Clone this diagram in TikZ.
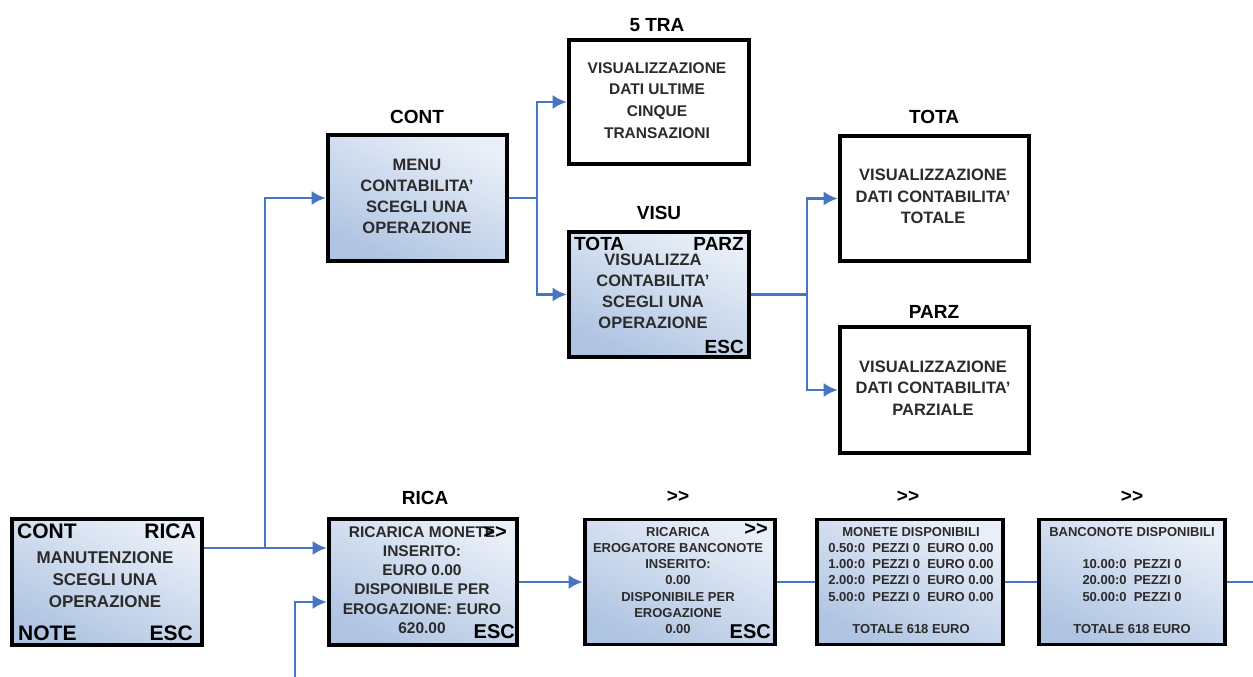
\documentclass[tikz,border=0pt]{standalone}
\usepackage{fontspec}
\setmainfont{Liberation Sans}
\usetikzlibrary{arrows.meta}
\definecolor{conncol}{HTML}{4775C2}
\definecolor{paneltop}{HTML}{E9EFF8}
\definecolor{panelbot}{HTML}{AFC4E2}
\definecolor{txtgray}{HTML}{2B2B2B}
\newcommand\myfs[2]{\fontsize{#1}{#2}\selectfont}
\begin{document}
\begin{tikzpicture}[x=1pt,y=-1pt,
  panel/.style={draw=black, line width=3.6pt, top color=paneltop, bottom color=panelbot, shading angle=-25, inner sep=0pt},
  plainbox/.style={draw=black, line width=3.6pt, fill=white, inner sep=0pt},
  boxtext/.style 2 args={align=center, text=txtgray, inner sep=0pt, font=\bfseries\myfs{#1}{#2}},
  cornerlbl/.style={inner sep=0pt, text=black, font=\bfseries\myfs{#1}{22}},
  title/.style={inner sep=0pt, text=black, font=\bfseries\myfs{19}{22}},
  conn/.style={draw=conncol, line width=2.6pt},
  arr/.style={conn, shorten >=0.5pt, -{Latex[length=14pt,width=14pt]}}
]
\fill[white] (0,0) rectangle (1253,677);
\useasboundingbox (0,0) rectangle (1253,677);

% boxes
\node[panel, minimum width=190pt, minimum height=126pt] (man) at (107,582) {};
\node[panel, minimum width=188pt, minimum height=126pt] (rica) at (423,582) {};
\node[panel, minimum width=190pt, minimum height=125pt] (bx2) at (680,582) {};
\node[panel, minimum width=186pt, minimum height=125pt] (bx3) at (910,582) {};
\node[panel, minimum width=186pt, minimum height=125pt] (bx4) at (1132,582) {};
\node[panel, minimum width=179pt, minimum height=126pt] (cont) at (417.5,198) {};
\node[plainbox, minimum width=180pt, minimum height=124pt] (tra) at (659,102) {};
\node[panel, minimum width=180pt, minimum height=125pt] (visu) at (659,294.5) {};
\node[plainbox, minimum width=189pt, minimum height=125pt] (tota) at (934.5,198.5) {};
\node[plainbox, minimum width=189pt, minimum height=126pt] (parz) at (934.5,390) {};

% titles
\node[title] (tcont) at (417,117) {CONT};
\node[title] (ttra) at (657,25) {5 TRA};
\node[title] (tvisu) at (659,213) {VISU};
\node[title] (ttota) at (934,117) {TOTA};
\node[title] (tparz) at (934,312) {PARZ};
\node[title] (trica) at (425,498) {RICA};
\node[title] (tbx2) at (678,497) {>{}>};
\node[title] (tbx3) at (908,497) {>{}>};
\node[title] (tbx4) at (1132,497) {>{}>};

% MANUTENZIONE box
\node[cornerlbl=21, anchor=base west] (mcont) at (17,538) {CONT};
\node[cornerlbl=21, anchor=base east] (mrica) at (196,538) {RICA};
\node[cornerlbl=21, anchor=base west] (mnote) at (18,640) {NOTE};
\node[cornerlbl=21, anchor=base east] (mesc) at (193,640) {ESC};
\node[boxtext={17}{22}] (mtxt) at (105,580) {MANUTENZIONE\\SCEGLI UNA\\OPERAZIONE};

% CONT box
\node[boxtext={16.5}{21}] (ctxt) at (417,196.5) {MENU\\CONTABILITA'\\SCEGLI UNA\\OPERAZIONE};

% 5 TRA box
\node[boxtext={15.5}{21.7}] (ttxt) at (657,100.5) {VISUALIZZAZIONE\\DATI ULTIME\\CINQUE\\TRANSAZIONI};

% VISU box
\node[cornerlbl=19, anchor=base west] (vtota) at (574,250) {TOTA};
\node[cornerlbl=19, anchor=base east] (vparz) at (744,250) {PARZ};
\node[cornerlbl=19, anchor=base east] (vesc) at (744,353) {ESC};
\node[boxtext={16.5}{21}] (vtxt) at (653,291.5) {VISUALIZZA\\CONTABILITA'\\SCEGLI UNA\\OPERAZIONE};

% TOTA / PARZ boxes
\node[boxtext={16.5}{21.5}] (totatxt) at (933,196.5) {VISUALIZZAZIONE\\DATI CONTABILITA'\\TOTALE};
\node[boxtext={16.5}{21.5}] (parztxt) at (933,388) {VISUALIZZAZIONE\\DATI CONTABILITA'\\PARZIALE};

% RICA box
\node[boxtext={15.5}{19.2}] (rtxt) at (422,580) {RICARICA MONETE\\INSERITO:\\EURO 0.00\\DISPONIBILE PER\\EROGAZIONE: EURO\\620.00};
\node[cornerlbl=20] (rgt) at (495,532) {>{}>};
\node[cornerlbl=20, anchor=base east] (resc) at (515,638) {ESC};

% box 2
\node[boxtext={13}{16.2}] (b2txt) at (678,580.5) {RICARICA\\EROGATORE BANCONOTE\\INSERITO:\\0.00\\DISPONIBILE PER\\EROGAZIONE\\0.00};
\node[cornerlbl=20] (b2gt) at (756,529) {>{}>};
\node[cornerlbl=20, anchor=base east] (b2esc) at (771,638) {ESC};

% box 3
\node[boxtext={13}{16.2}] (b3txt) at (911,580.5) {MONETE DISPONIBILI\\0.50:0~~PEZZI 0~~EURO 0.00\\1.00:0~~PEZZI 0~~EURO 0.00\\2.00:0~~PEZZI 0~~EURO 0.00\\5.00:0~~PEZZI 0~~EURO 0.00\\\mbox{}\\TOTALE 618 EURO};

% box 4
\node[boxtext={13}{16.2}] (b4txt) at (1132,580.5) {BANCONOTE DISPONIBILI\\\mbox{}\\10.00:0~~PEZZI 0\\20.00:0~~PEZZI 0\\50.00:0~~PEZZI 0\\\mbox{}\\TOTALE 618 EURO};

% connectors
\coordinate (jm) at (265,548);
\draw[conn] (man.east |- jm) -- (jm);
\draw[arr] (jm) -- (rica.west |- jm);
\draw[arr] (jm) |- (cont.west);

\coordinate (bend) at (295,677);
\coordinate (rin) at (rica.west |- 0,602);
\draw[arr] (bend) |- (rin);

\coordinate (jc) at (537,198);
\draw[conn] (cont.east) -- (jc);
\draw[arr] (jc) |- (tra.west);
\draw[arr] (jc) |- (visu.west);

\coordinate (jv) at (807,294.5);
\draw[conn] (visu.east) -- (jv);
\draw[arr] (jv) |- (tota.west);
\draw[arr] (jv) |- (parz.west);

\draw[arr] (rica.east) -- (bx2.west);
\draw[conn] (bx2.east) -- (bx3.west);
\draw[conn] (bx3.east) -- (bx4.west);
\coordinate (rend) at (1253,582);
\draw[conn] (bx4.east) -- (rend);
\end{tikzpicture}
\end{document}
